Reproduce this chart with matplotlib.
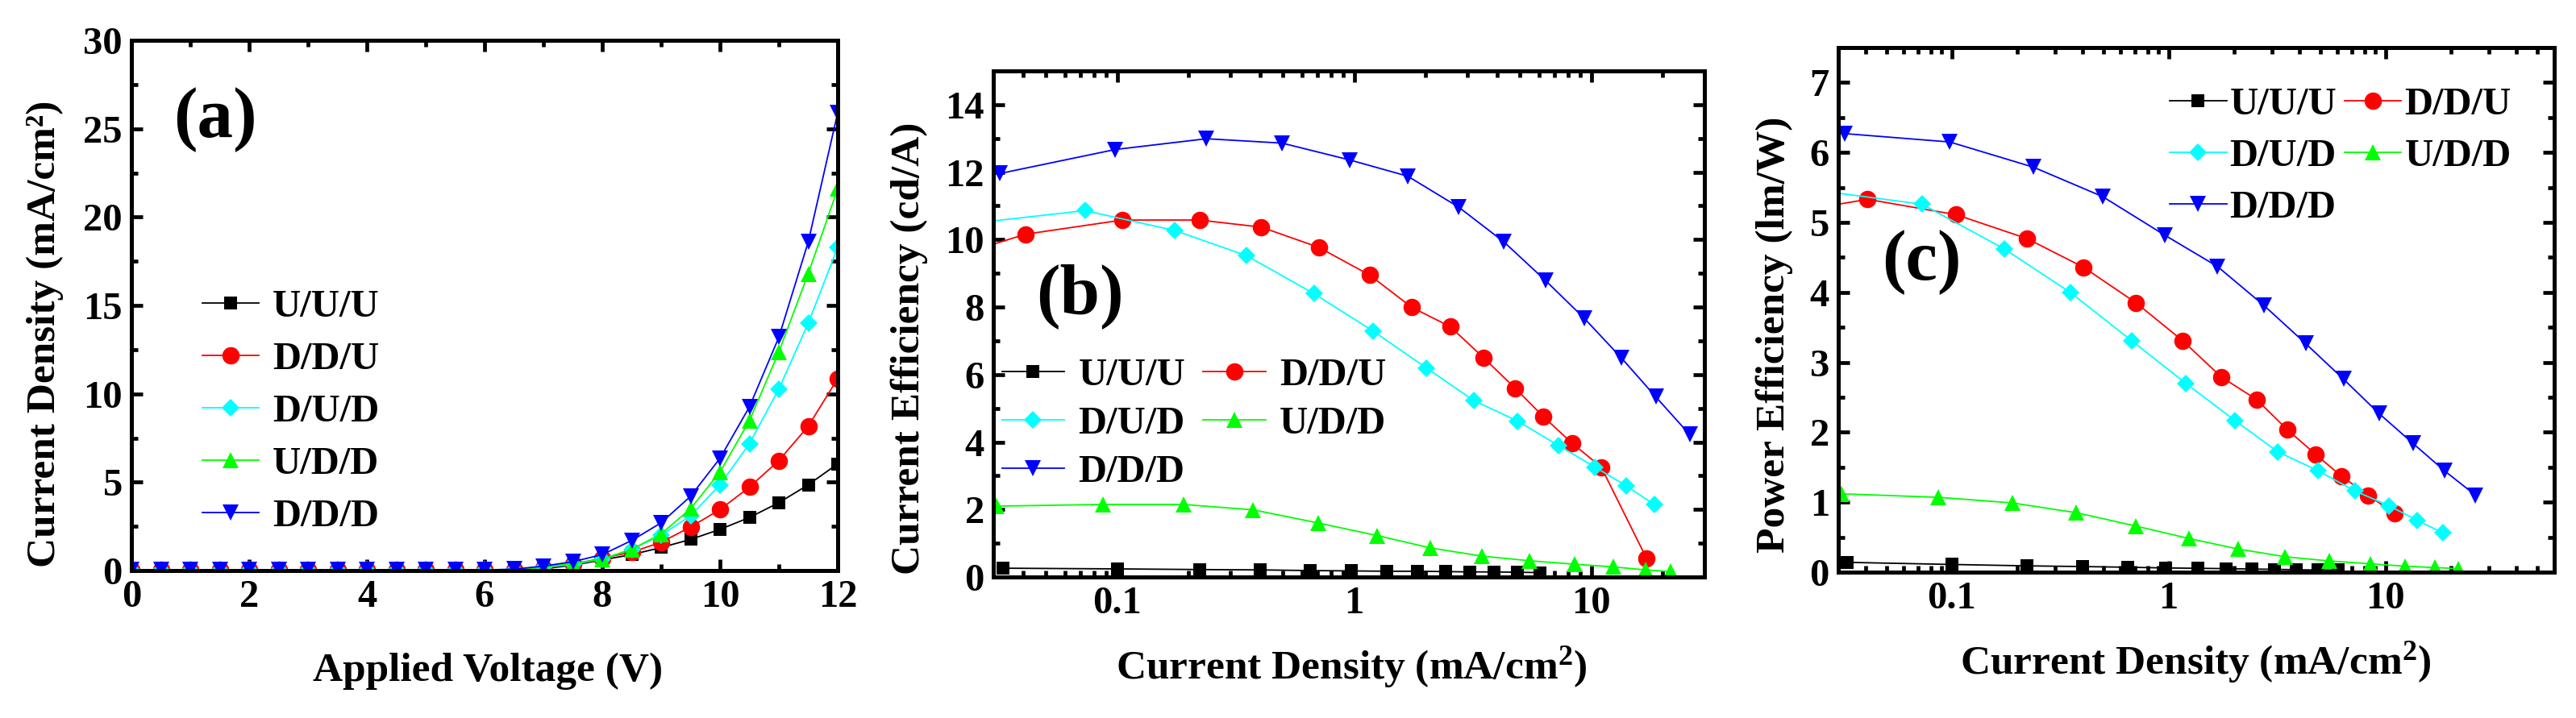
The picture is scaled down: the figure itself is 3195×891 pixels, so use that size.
import matplotlib
matplotlib.use("Agg")
import matplotlib.pyplot as plt
from matplotlib.ticker import MultipleLocator, LogLocator, FixedFormatter, FixedLocator, NullFormatter

plt.rcParams['font.family'] = ['Liberation Serif', 'DejaVu Serif']
plt.rcParams['font.weight'] = 'bold'
plt.rcParams['mathtext.default'] = 'regular'

W, H = 3195, 891

# ---- (a) J-V data ----
voltage = [0, 0.5, 1, 1.5, 2, 2.5, 3, 3.5, 4, 4.5, 5, 5.5, 6,
           6.5, 7, 7.5, 8, 8.5, 9, 9.5, 10, 10.5, 11, 11.5, 12]
base = [0.03] * 13
jv_uuu = base + [0.03, 0.1, 0.3, 0.6, 0.9, 1.3, 1.76, 2.33, 3.0, 3.84, 4.85, 6.04]
jv_ddu = base + [0.05, 0.15, 0.35, 0.7, 1.04, 1.6, 2.46, 3.45, 4.72, 6.22, 8.17, 10.86]
jv_dud = base + [0.05, 0.18, 0.35, 0.65, 1.2, 2.0, 3.1, 4.85, 7.18, 10.27, 14.0, 18.28]
jv_udd = base + [0.05, 0.2, 0.4, 0.65, 1.2, 2.07, 3.5, 5.57, 8.48, 12.37, 16.8, 21.6]
jv_ddd = base + [0.08, 0.25, 0.5, 0.9, 1.7, 2.7, 4.2, 6.35, 9.26, 13.2, 18.6, 25.9]

# ---- (b),(c) efficiency data vs current density ----
jd_uuu = [0.033, 0.1, 0.222, 0.4, 0.65, 0.97, 1.37, 1.84, 2.42, 3.07, 3.88, 4.87, 6.06]
ce_uuu = [0.26, 0.24, 0.22, 0.21, 0.19, 0.18, 0.17, 0.17, 0.16, 0.15, 0.15, 0.14, 0.13]
pe_uuu = [0.14, 0.11, 0.09, 0.08, 0.07, 0.06, 0.055, 0.05, 0.045, 0.04, 0.035, 0.03, 0.03]

jd_ddu = [0.024, 0.041, 0.105, 0.222, 0.405, 0.708, 1.16, 1.75, 2.54, 3.52, 4.78, 6.28, 8.31, 11.0, 17.1]
ce_ddu = [9.65, 10.16, 10.58, 10.58, 10.37, 9.77, 8.95, 7.99, 7.42, 6.49, 5.59, 4.75, 3.96, 3.26, 0.55]
pe_ddu = [5.21, 5.33, 5.11, 4.77, 4.36, 3.85, 3.31, 2.79, 2.47, 2.04, 1.68, 1.37, 1.10, 0.84]

jd_dud = [0.025, 0.073, 0.175, 0.352, 0.675, 1.2, 2.02, 3.19, 4.89, 7.25, 10.35, 14.05, 18.4]
ce_dud = [10.49, 10.86, 10.27, 9.52, 8.40, 7.29, 6.19, 5.23, 4.62, 3.90, 3.26, 2.70, 2.15]
pe_dud = [5.45, 5.26, 4.62, 4.00, 3.31, 2.70, 2.17, 1.72, 1.45, 1.16, 0.95, 0.74, 0.56]

jd_udd = [0.031, 0.087, 0.19, 0.375, 0.705, 1.245, 2.1, 3.45, 5.5, 8.5, 12.35, 16.9, 21.6]
ce_udd = [2.10, 2.15, 2.15, 1.99, 1.60, 1.23, 0.86, 0.62, 0.48, 0.38, 0.30, 0.21, 0.16]
pe_udd = [1.12, 1.07, 0.99, 0.85, 0.66, 0.48, 0.33, 0.22, 0.16, 0.12, 0.085, 0.066, 0.05]

jd_ddd = [0.032, 0.098, 0.238, 0.496, 0.958, 1.68, 2.76, 4.28, 6.4, 9.33, 13.4, 18.7, 26.0]
ce_ddd = [11.96, 12.67, 12.99, 12.86, 12.36, 11.88, 10.96, 9.93, 8.79, 7.67, 6.49, 5.34, 4.22]
pe_ddd = [6.27, 6.15, 5.79, 5.37, 4.82, 4.37, 3.81, 3.27, 2.76, 2.27, 1.84, 1.45, 1.10]

labels = ['U/U/U', 'D/D/U', 'D/U/D', 'U/D/D', 'D/D/D']
colors = ['#000000', '#ff0000', '#00ffff', '#00ff00', '#0000ff']
markers = ['s', 'o', 'D', '^', 'v']
msizes = [11, 15.5, 11, 15, 15]

TICK_FS = 35
LABEL_FS = 37
LEG_FS = 35

fig = plt.figure(figsize=(W / 100, H / 100), dpi=100)


def add_axes(left, top, right, bottom):
    return fig.add_axes([left / W, 1 - bottom / H, (right - left) / W, (bottom - top) / H])


def style(ax):
    for s in ax.spines.values():
        s.set_linewidth(3.6)
    ax.tick_params(which='both', direction='in', top=True, right=True,
                   labelsize=TICK_FS, pad=8, width=3.4)
    ax.tick_params(which='major', length=10)
    ax.tick_params(which='minor', length=6)
    for t in ax.get_xticklabels() + ax.get_yticklabels():
        t.set_fontweight('bold')


def draw(ax, xs, ys):
    for x, y, lab, c, m, ms in zip(xs, ys, labels, colors, markers, msizes):
        ax.plot(x[:len(y)], y, color=c, marker=m, markersize=ms, linewidth=1.3,
                markeredgewidth=0, label=lab)


# (a) current density vs voltage
ax1 = add_axes(163, 50, 1039, 708)
draw(ax1, [voltage] * 5, [jv_uuu, jv_ddu, jv_dud, jv_udd, jv_ddd])
ax1.set_xlim(0, 12)
ax1.set_ylim(0, 30)
ax1.xaxis.set_major_locator(MultipleLocator(2))
ax1.xaxis.set_minor_locator(MultipleLocator(1))
ax1.yaxis.set_major_locator(MultipleLocator(5))
ax1.yaxis.set_minor_locator(MultipleLocator(2.5))
style(ax1)
ax1.legend(loc='upper left', bbox_to_anchor=(0.10, 0.53), frameon=False,
           handlelength=1.45, handletextpad=0.35, labelspacing=0.43, borderpad=0,
           borderaxespad=0, prop={'weight': 'bold', 'size': LEG_FS})
ax1.text(0.06, 0.85, '(a)', transform=ax1.transAxes, fontsize=64, fontweight='bold',
         ha='left', va='center')

# (b) current efficiency
ax2 = add_axes(1232, 88, 2114, 716)
draw(ax2, [jd_uuu, jd_ddu, jd_dud, jd_udd, jd_ddd], [ce_uuu, ce_ddu, ce_dud, ce_udd, ce_ddd])
ax2.set_xscale('log')
ax2.set_xlim(0.03, 30)
ax2.set_ylim(0, 15)
ax2.yaxis.set_major_locator(MultipleLocator(2))
ax2.yaxis.set_minor_locator(MultipleLocator(1))

# (c) power efficiency
ax3 = add_axes(2280, 59, 3168, 710)
draw(ax3, [jd_uuu, jd_ddu, jd_dud, jd_udd, jd_ddd], [pe_uuu, pe_ddu, pe_dud, pe_udd, pe_ddd])
ax3.set_xscale('log')
ax3.set_xlim(0.03, 60)
ax3.set_ylim(0, 7.5)
ax3.yaxis.set_major_locator(MultipleLocator(1))
ax3.yaxis.set_minor_locator(MultipleLocator(0.5))

for ax in (ax2, ax3):
    ax.xaxis.set_major_locator(FixedLocator([0.1, 1, 10]))
    ax.xaxis.set_major_formatter(FixedFormatter(['0.1', '1', '10']))
    ax.xaxis.set_minor_locator(LogLocator(base=10, subs=range(2, 10)))
    ax.xaxis.set_minor_formatter(NullFormatter())
    style(ax)

# two-column legends, row-major order
order = [0, 2, 4, 1, 3]
h, l = ax2.get_legend_handles_labels()
ax2.legend([h[i] for i in order], [l[i] for i in order], ncol=2, loc='upper left',
           bbox_to_anchor=(0.012, 0.433), frameon=False, handlelength=1.6,
           handletextpad=0.35, columnspacing=0.45, labelspacing=0.33, borderpad=0,
           borderaxespad=0, prop={'weight': 'bold', 'size': LEG_FS})
ax2.text(0.06, 0.555, '(b)', transform=ax2.transAxes, fontsize=64, fontweight='bold',
         ha='left', va='center')

h, l = ax3.get_legend_handles_labels()
ax3.legend([h[i] for i in order], [l[i] for i in order], ncol=2, loc='upper left',
           bbox_to_anchor=(0.463, 0.925), frameon=False, handlelength=1.45,
           handletextpad=0.08, columnspacing=0.2, labelspacing=0.41, borderpad=0,
           borderaxespad=0, prop={'weight': 'bold', 'size': LEG_FS})
ax3.text(0.061, 0.59, '(c)', transform=ax3.transAxes, fontsize=64, fontweight='bold',
         ha='left', va='center')

# axis titles placed by pixel centre
def ftext(x, y, s, rot=0):
    fig.text(x / W, 1 - y / H, s, rotation=rot, ha='center', va='center',
             fontsize=LABEL_FS, fontweight='bold')


ftext(56, 414, 'Current Density (mA/cm\u00b2)', 90)
ftext(605, 833, 'Applied Voltage (V)')
ftext(1128, 432, 'Current Efficiency (cd/A)', 90)
ftext(1676, 828, 'Current Density (mA/cm$^{2}$)')
ftext(2201, 415, 'Power Efficiency (lm/W)', 90)
ftext(2723, 822, 'Current Density (mA/cm$^{2}$)')

fig.savefig('out.png', dpi=100)
